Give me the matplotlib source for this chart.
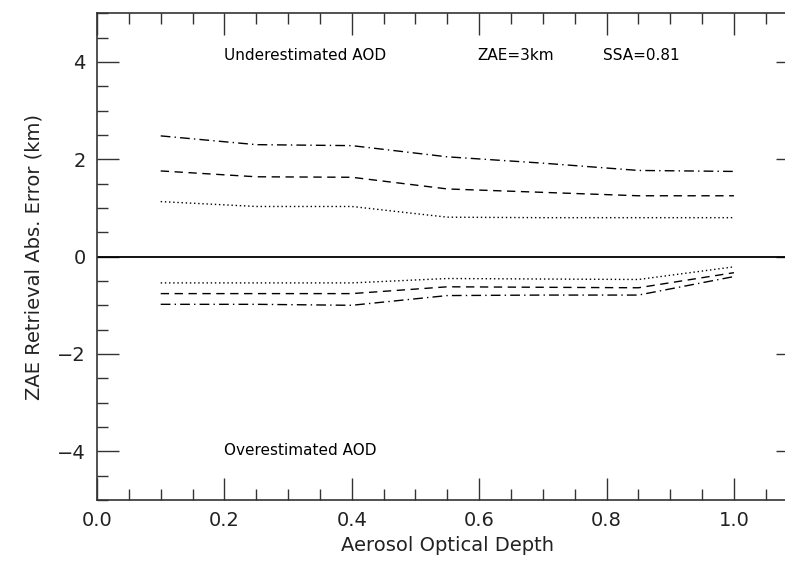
import numpy as np
import matplotlib
matplotlib.use('Agg')
import matplotlib.pyplot as plt
from matplotlib.ticker import MultipleLocator

## valeurs
aod = [0.1, 0.25, 0.4, 0.55, 0.7, 0.85, 1.0]
# AOD sous-estimee (erreur positive)
under_dot = [1.13, 1.03, 1.03, 0.81, 0.80, 0.80, 0.80]
under_dash = [1.76, 1.64, 1.63, 1.39, 1.32, 1.25, 1.25]
under_dashdot = [2.48, 2.30, 2.28, 2.05, 1.92, 1.77, 1.75]
# AOD surestimee (erreur negative)
over_dot = [-0.54, -0.54, -0.54, -0.45, -0.46, -0.47, -0.21]
over_dash = [-0.76, -0.76, -0.76, -0.62, -0.63, -0.64, -0.33]
over_dashdot = [-0.98, -0.98, -1.00, -0.80, -0.79, -0.79, -0.41]

plt.rcParams['font.family'] = 'DejaVu Sans'
fig = plt.figure(figsize=(7.85, 5.70), dpi=100)
# axe droit hors de l'image comme dans l'original
ax = fig.add_axes([0.1236, 0.1228, 0.8925, 0.854])

dot = (0, (1, 2))
dash = (0, (6, 4))
dashdot = (0, (7, 3, 1, 3))
for y, ls in [(under_dot, dot), (under_dash, dash), (under_dashdot, dashdot),
              (over_dot, dot), (over_dash, dash), (over_dashdot, dashdot)]:
    ax.plot(aod, y, color='black', lw=1.0, linestyle=ls)

ax.axhline(0, color='black', lw=1.3)

ax.set_xlim(0, 1.1)
ax.set_ylim(-5, 5)
ax.xaxis.set_minor_locator(MultipleLocator(0.05))
ax.yaxis.set_minor_locator(MultipleLocator(0.5))
ax.set_xticks([0.0, 0.2, 0.4, 0.6, 0.8, 1.0])
ax.set_xticklabels(['0.0', '0.2', '0.4', '0.6', '0.8', '1.0'])
ax.set_yticks([-4, -2, 0, 2, 4])
ax.set_yticklabels(['\u22124', '\u22122', '0', '2', '4'])
ax.tick_params(which='both', direction='in', top=True, right=True,
               labelsize=14, width=1.0, color='#333333', labelcolor='#222222')
ax.tick_params(which='major', length=16, pad=8)
ax.tick_params(which='minor', length=8)
for s in ax.spines.values():
    s.set_linewidth(1.2)
    s.set_color('#333333')

ax.set_xlabel('Aerosol Optical Depth', fontsize=14, labelpad=4, color='#222222')
ax.set_ylabel('ZAE Retrieval Abs. Error (km)', fontsize=14, labelpad=10, color='#222222')

ax.text(0.20, 4.14, 'Underestimated AOD', fontsize=11, va='center', ha='left')
ax.text(0.597, 4.14, 'ZAE=3km', fontsize=11, va='center', ha='left')
ax.text(0.794, 4.14, 'SSA=0.81', fontsize=11, va='center', ha='left')
ax.text(0.20, -3.99, 'Overestimated AOD', fontsize=11, va='center', ha='left')

fig.savefig('out.png', dpi=100)
